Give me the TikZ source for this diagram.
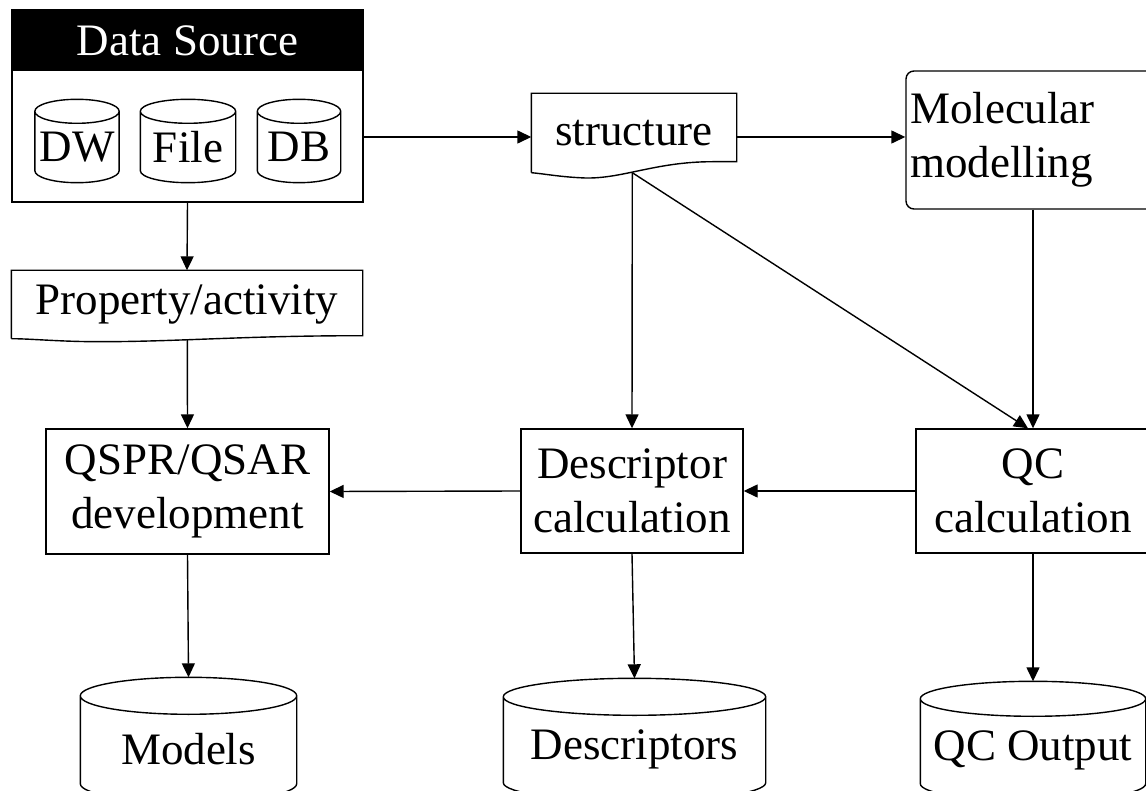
\documentclass[tikz,border=0pt]{standalone}
\usepackage{fontspec}
\setmainfont{Liberation Serif}
\usetikzlibrary{arrows.meta, calc}
\tikzset{
    every node/.style={font=\fontsize{22.5}{27}\selectfont, align=center,
    	inner sep=2pt, line width=0.7pt},
    procbox/.style={rectangle, draw},
    docbox/.style={rectangle},
    store/.style={rectangle},
    flow/.style={-{Triangle[length=7pt,width=6.5pt]}, line width=0.7pt}
}
% drum outline round a store node: #1 node, #2 radius of its ends
\newcommand{\drum}[2]{%
  \draw[line width=0.7pt] let \p1=(#1.north west), \p2=(#1.south east),
    \n1={(\x2-\x1)/2} in
    ({\x1+\n1},{\y1+#2}) ellipse [x radius=\n1, y radius=#2]
    (\x1,{\y1+#2}) -- (\x1,\y2)
    arc [start angle=180, end angle=360, x radius=\n1, y radius=#2]
    -- (\x2,{\y1+#2});
}

\begin{document}
\begin{tikzpicture}[x=0.5pt, y=-0.5pt]
  \useasboundingbox (0,0) rectangle (1146,791);

  % data source with its three stores
  \node (src) [procbox, minimum width=175.5pt, minimum height=96pt] at (187.5,106) {};
  \node (srchead) [rectangle, fill=black, text=white, minimum width=175.5pt,
    minimum height=30.5pt] at (187.5,40.5) {Data Source};
  \draw[line width=0.7pt] (src.south west) rectangle (src.north east);
  \node (dw) [store, minimum width=41pt, minimum height=23pt] at (77,147) {DW};
  \node (file) [store, minimum width=47pt, minimum height=23pt] at (188,147) {File};
  \node (db) [store, minimum width=41pt, minimum height=23pt] at (299,147) {DB};
  \drum{dw}{6pt} \drum{file}{6pt} \drum{db}{6pt}
  \coordinate (srcout) at ($(src.east)+(0,31)$);

  % documents
  \node (struct) [docbox, minimum width=102pt, minimum height=39pt] at (634,133) {structure};
  \draw[line width=0.7pt] (struct.south west) -- (struct.north west) -- (struct.north east)
    -- ($(struct.south east)+(0,-11)$) -- ++(-24,0)
    .. controls +(-60,0) and +(40,3) .. ($(struct.south west)+(48,5)$)
    .. controls +(-20,-1) and +(12,1) .. (struct.south west);
  \coordinate (sfoot) at ($(struct.south west)+(101,0)$);

  \node (prop) [docbox, minimum width=175pt, minimum height=33.5pt] at (187,304.5) {Property/activity};
  \draw[line width=0.7pt] (prop.south west) -- (prop.north west) -- (prop.north east)
    -- ($(prop.south east)+(0,-3)$)
    .. controls +(-120,0) and +(80,0) .. ($(prop.south west)+(88,3)$)
    .. controls +(-40,0) and +(20,0) .. (prop.south west);
  \coordinate (pfoot) at ($(prop.south west)+(176,1)$);

  % processes
  \node (mol) [procbox, rounded corners=4pt, minimum width=127pt, minimum height=69pt,
    text width=123pt, align=left] at (1033,140) {Molecular\\modelling};
  \node (qspr) [procbox, minimum width=141.5pt, minimum height=62.5pt] at (187.5,491.5) {QSPR/QSAR\\development};
  \node (desc) [procbox, minimum width=111pt, minimum height=62pt] at (632,491) {Descriptor\\calculation};
  \node (qc) [procbox, minimum width=117pt, minimum height=62pt] at (1033,491) {QC\\calculation};
  \coordinate (qcin) at ($(qc.north)+(-5,0)$);

  % outputs
  \node (models) [store, minimum width=107.5pt, minimum height=34pt] at (188.5,749) {Models};
  \node (descs) [store, minimum width=130.5pt, minimum height=33pt] at (634.5,749) {Descriptors};
  \node (qcout) [store, minimum width=112pt, minimum height=33pt] at (1033,750) {QC Output};
  \drum{models}{9.25pt} \drum{descs}{9.25pt} \drum{qcout}{8.75pt}
  \coordinate (modelstop) at ($(models.north)+(0,-37)$);
  \coordinate (descstop) at ($(descs.north)+(0,-37)$);
  \coordinate (qcouttop) at ($(qcout.north)+(0,-35)$);

  \draw[flow] (srcout) -- (struct.west |- srcout);
  \draw[flow] (struct.east |- srcout) -- (mol.west |- srcout);
  \draw[flow] (src.south) -- (prop.north);
  \draw[flow] (pfoot) -- (qspr.north);
  \draw[flow] (sfoot) -- (desc.north);
  \draw[flow] (sfoot) -- (qcin);
  \draw[flow] (mol.south) -- (qc.north);
  \draw[flow] (desc.west) -- (qspr.east);
  \draw[flow] (qc.west) -- (desc.east);
  \draw[flow] (qspr.south) -- (modelstop);
  \draw[flow] (desc.south) -- (descstop);
  \draw[flow] (qc.south) -- (qcouttop);
\end{tikzpicture}
\end{document}
